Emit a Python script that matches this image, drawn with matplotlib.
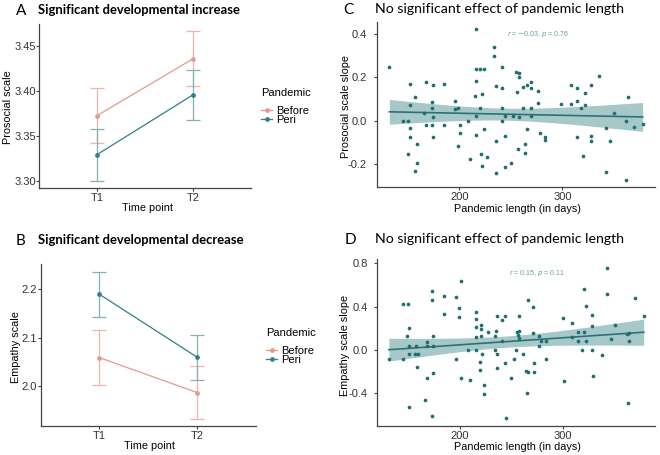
import numpy as np
import matplotlib
matplotlib.use("Agg")
import matplotlib.pyplot as plt
from matplotlib.lines import Line2D

# ---- data: panels A/B (means with error bars) ----
time_points = ["T1", "T2"]
groups = ["Before", "Peri"]

pro_before = [3.3726, 3.4359]
pro_before_lo = [3.3419, 3.4056]
pro_before_hi = [3.4033, 3.4667]
pro_peri = [3.3293, 3.3959]
pro_peri_lo = [3.3000, 3.3674]
pro_peri_hi = [3.3581, 3.4237]

emp_before = [2.0589, 1.9870]
emp_before_lo = [2.0027, 1.9322]
emp_before_hi = [2.1151, 2.0425]
emp_peri = [2.1890, 2.0596]
emp_peri_lo = [2.1425, 2.0137]
emp_peri_hi = [2.2356, 2.1062]

# ---- data: panel C (pandemic length vs prosocial slope) ----
c_days = [132, 145, 150, 152, 152, 152, 152, 150, 157, 157, 159, 159, 166, 168, 168,
          173, 173, 174, 174, 173, 174, 185, 185, 196, 196, 199, 199, 201, 201, 208,
          210, 215, 216, 216, 216, 216, 216, 220, 220, 221, 222, 222, 224, 224, 227,
          234, 234, 236, 236, 236, 241, 241, 241, 241, 244, 244, 244, 250, 252, 255,
          256, 257, 258, 258, 258, 262, 262, 264, 264, 266, 266, 270, 270, 270, 270,
          276, 276, 278, 283, 283, 299, 308, 308, 314, 314, 314, 318, 320, 322, 322,
          328, 328, 328, 336, 342, 342, 346, 350, 362, 362, 364, 370, 378]
c_slope = [0.249, 0.0, 0.0, 0.168, 0.072, -0.035, -0.074, -0.154, 0.108, -0.235,
           -0.108, -0.194, 0.034, 0.177, -0.02, 0.088, 0.057, 0.163, 0.018, -0.02,
           -0.077, 0.169, -0.02, 0.092, 0.055, 0.057, -0.117, -0.02, -0.058, 0.0,
           -0.178, 0.114, 0.022, 0.423, 0.237, 0.183, -0.066, 0.237, 0.057, -0.154,
           0.123, -0.209, 0.237, -0.037, -0.166, 0.342, 0.298, 0.160, -0.092, -0.240,
           0.249, 0.149, 0.057, 0.0, 0.022, -0.071, -0.215, -0.197, 0.022, 0.226,
           0.132, -0.129, 0.218, 0.2, 0.018, 0.157, 0.057, -0.108, -0.148, 0.165,
           -0.037, 0.18, 0.149, 0.057, 0.022, 0.138, 0.08, -0.055, -0.074, -0.089,
           0.077, 0.165, 0.077, 0.149, 0.092, -0.074, 0.057, -0.163, 0.129, 0.072,
           -0.069, 0.165, -0.092, 0.206, -0.035, -0.237, -0.092, 0.034, 0.0, -0.274,
           0.108, -0.031, -0.017]

# ---- data: panel D (pandemic length vs empathy slope) ----
d_days = [131, 145, 145, 150, 149, 151, 151, 151, 151, 156, 157, 159, 158, 168, 168,
          168, 166, 173, 173, 174, 174, 174, 173, 185, 185, 196, 196, 199, 199, 201,
          201, 208, 210, 216, 216, 216, 216, 216, 220, 220, 221, 221, 221, 222, 224,
          224, 227, 234, 234, 235, 236, 236, 236, 241, 241, 244, 244, 245, 250, 253,
          255, 256, 257, 258, 258, 258, 262, 264, 265, 266, 266, 271, 271, 272, 272,
          277, 277, 279, 284, 284, 300, 301, 309, 309, 315, 315, 319, 321, 321, 323,
          323, 329, 329, 329, 330, 338, 343, 343, 347, 351, 363, 364, 365, 365, 371, 379]
d_slope = [-0.086, 0.42, -0.086, 0.42, 0.126, 0.206, 0.04, -0.04, -0.526, -0.04,
           0.04, -0.04, -0.157, 0.077, 0.04, -0.262, -0.462, 0.545, 0.458, 0.126,
           0.04, -0.209, -0.606, 0.502, 0.332, 0.489, -0.083, 0.391, 0.302, 0.637,
           -0.255, 0.0, -0.274, 0.354, 0.283, 0.209, 0.12, 0.0, -0.114, -0.188,
           0.126, 0.231, 0.191, -0.04, -0.323, -0.406, 0.163, 0.0, 0.126, 0.175,
           0.314, -0.04, -0.163, 0.28, 0.083, 0.317, -0.123, -0.631, -0.262, -0.083,
           0.0, 0.163, 0.138, 0.175, 0.114, 0.317, -0.04, -0.194, -0.4, -0.206,
           0.465, 0.397, 0.16, -0.123, -0.206, 0.126, 0.04, 0.083, 0.083, -0.083,
           0.292, -0.286, 0.246, 0.12, 0.163, 0.08, 0.0, 0.56, 0.163, 0.406,
           0.08, 0.225, 0.32, 0.0, -0.243, -0.043, 0.76, 0.52, 0.098, 0.234,
           0.151, -0.489, 0.16, 0.08, 0.48, 0.314]

BEFORE_LINE = "#e39a8d"
BEFORE_BAR = "#eeb5ad"
PERI_LINE = "#2f8088"
PERI_BAR = "#80b2b6"
DOT = "#1f6e72"
AXIS = "#444444"
TICKTXT = "#333333"

plt.rcParams["font.family"] = ["Liberation Sans", "DejaVu Sans"]
W, H = 660, 455
fig = plt.figure(figsize=(6.6, 4.55), dpi=100)


def ax_px(x0, y0, x1, y1):
    return fig.add_axes([x0 / W, 1 - y1 / H, (x1 - x0) / W, (y1 - y0) / H])


def txt(x, y, s, **kw):
    fig.text(x / W, 1 - y / H, s, **kw)


def style(ax, ypad):
    for side in ["top", "right"]:
        ax.spines[side].set_visible(False)
    for side in ["left", "bottom"]:
        ax.spines[side].set_color(AXIS)
        ax.spines[side].set_linewidth(0.9)
    ax.tick_params(length=2, width=0.8, color=AXIS, labelsize=8,
                   labelcolor=TICKTXT, pad=1.5)
    ax.tick_params(axis="y", pad=ypad)


def means_panel(ax, bef, bef_lo, bef_hi, peri, peri_lo, peri_hi):
    x = np.arange(1, len(time_points) + 1)
    for m, lo, hi, lc, bc in [(bef, bef_lo, bef_hi, BEFORE_LINE, BEFORE_BAR),
                              (peri, peri_lo, peri_hi, PERI_LINE, PERI_BAR)]:
        m = np.array(m)
        err = [m - np.array(lo), np.array(hi) - m]
        ax.errorbar(x, m, yerr=err, fmt="none", ecolor=bc, elinewidth=0.9,
                    capsize=4.7, capthick=0.9)
        ax.plot(x, m, color=lc, lw=0.9, marker="o", ms=2.4)
    ax.set_xticks(x)
    ax.set_xticklabels(time_points)
    ax.set_xlim(0.4, 2.6)
    style(ax, 0.5)
    handles = [Line2D([], [], color=BEFORE_LINE, lw=0.9, marker="o", ms=2.4),
               Line2D([], [], color=PERI_LINE, lw=0.9, marker="o", ms=2.4)]
    return handles


def legend_at(ax, handles, x, y):
    txt(x, y, "Pandemic", fontsize=8, ha="left", va="center")
    ax.legend(handles, groups, loc="upper left",
              bbox_to_anchor=(x / W, 1 - (y + 13) / H), bbox_transform=fig.transFigure,
              frameon=False, fontsize=8, handlelength=1.0, handletextpad=0.4,
              labelspacing=-0.1, borderpad=0, borderaxespad=0)


def scatter_panel(ax, xs, ys):
    xs = np.array(xs, float)
    ys = np.array(ys, float)
    ax.scatter(xs, ys, s=7, color=DOT, lw=0, zorder=3)
    n = len(xs)
    b, a = np.polyfit(xs, ys, 1)
    res = ys - (a + b * xs)
    s = np.sqrt(np.sum(res ** 2) / (n - 2))
    xg = np.linspace(xs.min(), xs.max(), 100)
    se = s * np.sqrt(1 / n + (xg - xs.mean()) ** 2 / np.sum((xs - xs.mean()) ** 2))
    yg = a + b * xg
    ax.fill_between(xg, yg - 1.984 * se, yg + 1.984 * se, color="#3d8587",
                    alpha=0.45, lw=0, zorder=1)
    ax.plot(xg, yg, color="#2b7276", lw=1.2, zorder=2)
    ax.set_xticks([200, 300])
    ax.set_xlim(119.7, 390)
    style(ax, 5)


# Panel A
axA = ax_px(39.3, 24, 251, 188)
hA = means_panel(axA, pro_before, pro_before_lo, pro_before_hi,
                 pro_peri, pro_peri_lo, pro_peri_hi)
axA.set_ylim(3.2922, 3.4744)
axA.set_yticks([3.30, 3.35, 3.40, 3.45])
axA.set_yticklabels(["3.30", "3.35", "3.40", "3.45"])
legend_at(axA, hA, 261, 93)

# Panel B
axB = ax_px(40.7, 264.3, 256, 426.3)
hB = means_panel(axB, emp_before, emp_before_lo, emp_before_hi,
                 emp_peri, emp_peri_lo, emp_peri_hi)
axB.set_ylim(1.9178, 2.2507)
axB.set_yticks([2.0, 2.1, 2.2])
axB.set_yticklabels(["2.0", "2.1", "2.2"])
legend_at(axB, hB, 266, 333)

# Panel C
axC = ax_px(376.7, 21.7, 655, 187.3)
scatter_panel(axC, c_days, c_slope)
axC.set_ylim(-0.308, 0.457)
axC.set_yticks([-0.2, 0.0, 0.2, 0.4])
axC.set_yticklabels(["-0.2", "0.0", "0.2", "0.4"])
txt(538, 34, r"$r$ = $-$0.03, $p$ = 0.76", ha="center", va="center",
    fontsize=5, color="#5f9fa2")

# Panel D
axD = ax_px(377.3, 259.3, 655, 426.3)
scatter_panel(axD, d_days, d_slope)
axD.set_ylim(-0.705, 0.837)
axD.set_yticks([-0.4, 0.0, 0.4, 0.8])
axD.set_yticklabels(["-0.4", "0.0", "0.4", "0.8"])
txt(537, 273, r"$r$ = 0.15, $p$ = 0.11", ha="center", va="center",
    fontsize=5, color="#5f9fa2")

# axis labels
lab = dict(fontsize=7.8, color="black")
txt(8, 107, "Prosocial scale", rotation=90, ha="center", va="center", **lab)
txt(147, 208, "Time point", ha="center", va="center", **lab)
txt(16, 347, "Empathy scale", rotation=90, ha="center", va="center", **lab)
txt(149, 446, "Time point", ha="center", va="center", **lab)
txt(346, 107, "Prosocial scale slope", rotation=90, ha="center", va="center", **lab)
txt(517, 209, "Pandemic length (in days)", ha="center", va="center", **lab)
txt(345, 345, "Empathy scale slope", rotation=90, ha="center", va="center", **lab)
txt(517, 447, "Pandemic length (in days)", ha="center", va="center", **lab)

# panel titles
tf = ["Lato", "DejaVu Sans"]
txt(16, 11, "A", fontsize=11, family=tf, ha="left", va="center")
txt(38, 10, "Significant developmental increase", fontsize=9.4, family=tf,
    weight="bold", ha="left", va="center")
txt(16, 241, "B", fontsize=11, family=tf, ha="left", va="center")
txt(38, 240, "Significant developmental decrease", fontsize=9.4, family=tf,
    weight="bold", ha="left", va="center")
txt(343, 10, "C", fontsize=11, family=tf, ha="left", va="center")
txt(375, 9, "No significant effect of pandemic length", fontsize=10.2, family=tf,
    ha="left", va="center")
txt(345, 240, "D", fontsize=11, family=tf, ha="left", va="center")
txt(375, 239, "No significant effect of pandemic length", fontsize=10.2, family=tf,
    ha="left", va="center")

fig.savefig("out.png", dpi=100)
